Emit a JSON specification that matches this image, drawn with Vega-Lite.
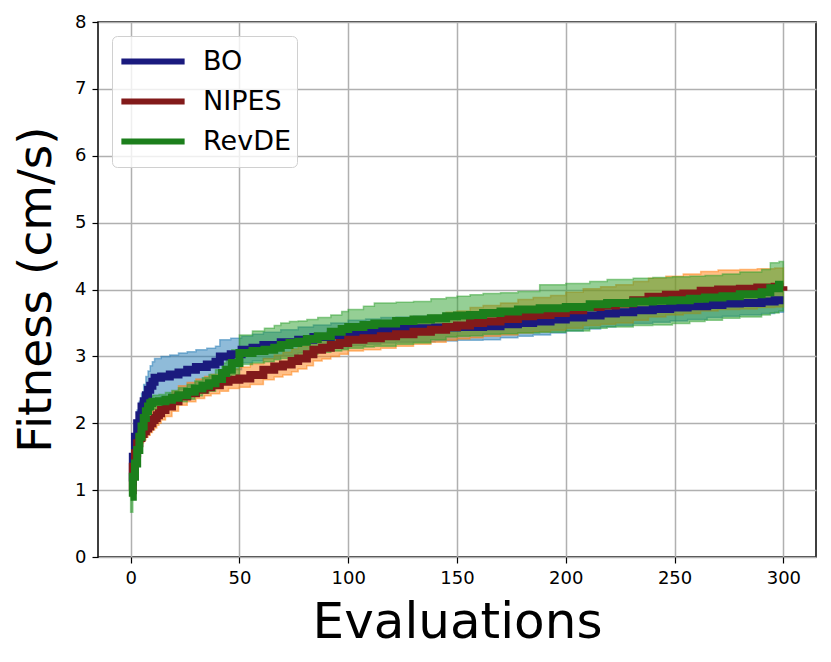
{
  "$schema": "https://vega.github.io/schema/vega-lite/v6.json",
  "width": 718,
  "height": 535,
  "autosize": {"type": "none"},
  "padding": {"left": 98, "top": 22, "right": 15, "bottom": 105},
  "background": "white",
  "data": {
    "values": [
      {"algo": "BO", "x": 0, "y": 1.13, "lo": 1.0, "hi": 1.25},
      {"algo": "BO", "x": 1, "y": 1.5, "lo": 1.33, "hi": 1.68},
      {"algo": "BO", "x": 2, "y": 1.8, "lo": 1.6, "hi": 2.0},
      {"algo": "BO", "x": 3, "y": 2.0, "lo": 1.8, "hi": 2.2},
      {"algo": "BO", "x": 4, "y": 2.12, "lo": 1.93, "hi": 2.33},
      {"algo": "BO", "x": 5, "y": 2.25, "lo": 2.05, "hi": 2.45},
      {"algo": "BO", "x": 6, "y": 2.33, "lo": 2.12, "hi": 2.58},
      {"algo": "BO", "x": 7, "y": 2.42, "lo": 2.2, "hi": 2.7},
      {"algo": "BO", "x": 8, "y": 2.5, "lo": 2.24, "hi": 2.78},
      {"algo": "BO", "x": 9, "y": 2.56, "lo": 2.28, "hi": 2.86},
      {"algo": "BO", "x": 10, "y": 2.62, "lo": 2.32, "hi": 2.92},
      {"algo": "BO", "x": 11, "y": 2.68, "lo": 2.35, "hi": 2.97},
      {"algo": "BO", "x": 14, "y": 2.7, "lo": 2.4, "hi": 3.0},
      {"algo": "BO", "x": 18, "y": 2.73, "lo": 2.45, "hi": 3.02},
      {"algo": "BO", "x": 22, "y": 2.76, "lo": 2.5, "hi": 3.05},
      {"algo": "BO", "x": 26, "y": 2.8, "lo": 2.55, "hi": 3.07},
      {"algo": "BO", "x": 30, "y": 2.84, "lo": 2.6, "hi": 3.1},
      {"algo": "BO", "x": 35, "y": 2.88, "lo": 2.62, "hi": 3.12},
      {"algo": "BO", "x": 39, "y": 2.92, "lo": 2.68, "hi": 3.15},
      {"algo": "BO", "x": 41, "y": 3.0, "lo": 2.75, "hi": 3.25},
      {"algo": "BO", "x": 46, "y": 3.03, "lo": 2.8, "hi": 3.27},
      {"algo": "BO", "x": 51, "y": 3.1, "lo": 2.9, "hi": 3.3},
      {"algo": "BO", "x": 56, "y": 3.13, "lo": 2.93, "hi": 3.33},
      {"algo": "BO", "x": 61, "y": 3.17, "lo": 2.97, "hi": 3.36},
      {"algo": "BO", "x": 69, "y": 3.21, "lo": 3.01, "hi": 3.4},
      {"algo": "BO", "x": 77, "y": 3.25, "lo": 3.05, "hi": 3.44},
      {"algo": "BO", "x": 84, "y": 3.29, "lo": 3.09, "hi": 3.47},
      {"algo": "BO", "x": 92, "y": 3.32, "lo": 3.12, "hi": 3.5},
      {"algo": "BO", "x": 100, "y": 3.36, "lo": 3.16, "hi": 3.54},
      {"algo": "BO", "x": 108, "y": 3.38, "lo": 3.18, "hi": 3.56},
      {"algo": "BO", "x": 115, "y": 3.4, "lo": 3.2, "hi": 3.58},
      {"algo": "BO", "x": 122, "y": 3.41, "lo": 3.21, "hi": 3.59},
      {"algo": "BO", "x": 130, "y": 3.42, "lo": 3.22, "hi": 3.6},
      {"algo": "BO", "x": 140, "y": 3.43, "lo": 3.23, "hi": 3.61},
      {"algo": "BO", "x": 150, "y": 3.44, "lo": 3.24, "hi": 3.62},
      {"algo": "BO", "x": 162, "y": 3.45, "lo": 3.25, "hi": 3.63},
      {"algo": "BO", "x": 170, "y": 3.48, "lo": 3.28, "hi": 3.66},
      {"algo": "BO", "x": 178, "y": 3.5, "lo": 3.3, "hi": 3.68},
      {"algo": "BO", "x": 185, "y": 3.52, "lo": 3.32, "hi": 3.7},
      {"algo": "BO", "x": 193, "y": 3.55, "lo": 3.35, "hi": 3.73},
      {"algo": "BO", "x": 200, "y": 3.58, "lo": 3.38, "hi": 3.76},
      {"algo": "BO", "x": 208, "y": 3.61, "lo": 3.41, "hi": 3.79},
      {"algo": "BO", "x": 216, "y": 3.64, "lo": 3.44, "hi": 3.82},
      {"algo": "BO", "x": 223, "y": 3.66, "lo": 3.46, "hi": 3.84},
      {"algo": "BO", "x": 231, "y": 3.69, "lo": 3.49, "hi": 3.87},
      {"algo": "BO", "x": 240, "y": 3.71, "lo": 3.51, "hi": 3.89},
      {"algo": "BO", "x": 248, "y": 3.73, "lo": 3.53, "hi": 3.91},
      {"algo": "BO", "x": 256, "y": 3.75, "lo": 3.55, "hi": 3.93},
      {"algo": "BO", "x": 265, "y": 3.77, "lo": 3.58, "hi": 3.95},
      {"algo": "BO", "x": 272, "y": 3.79, "lo": 3.6, "hi": 3.97},
      {"algo": "BO", "x": 280, "y": 3.8, "lo": 3.62, "hi": 3.98},
      {"algo": "BO", "x": 290, "y": 3.82, "lo": 3.64, "hi": 4.0},
      {"algo": "BO", "x": 296, "y": 3.84, "lo": 3.66, "hi": 4.02},
      {"algo": "BO", "x": 300, "y": 3.84, "lo": 3.66, "hi": 4.02},

      {"algo": "NIPES", "x": 0, "y": 1.0, "lo": 0.9, "hi": 1.1},
      {"algo": "NIPES", "x": 1, "y": 1.35, "lo": 1.22, "hi": 1.47},
      {"algo": "NIPES", "x": 2, "y": 1.55, "lo": 1.42, "hi": 1.68},
      {"algo": "NIPES", "x": 3, "y": 1.7, "lo": 1.57, "hi": 1.83},
      {"algo": "NIPES", "x": 4, "y": 1.78, "lo": 1.65, "hi": 1.91},
      {"algo": "NIPES", "x": 5, "y": 1.84, "lo": 1.71, "hi": 1.98},
      {"algo": "NIPES", "x": 6, "y": 1.88, "lo": 1.75, "hi": 2.02},
      {"algo": "NIPES", "x": 7, "y": 1.92, "lo": 1.79, "hi": 2.06},
      {"algo": "NIPES", "x": 8, "y": 1.95, "lo": 1.82, "hi": 2.1},
      {"algo": "NIPES", "x": 9, "y": 2.0, "lo": 1.86, "hi": 2.15},
      {"algo": "NIPES", "x": 10, "y": 2.05, "lo": 1.9, "hi": 2.2},
      {"algo": "NIPES", "x": 11, "y": 2.08, "lo": 1.93, "hi": 2.23},
      {"algo": "NIPES", "x": 12, "y": 2.12, "lo": 1.97, "hi": 2.28},
      {"algo": "NIPES", "x": 13, "y": 2.15, "lo": 2.0, "hi": 2.31},
      {"algo": "NIPES", "x": 14, "y": 2.2, "lo": 2.05, "hi": 2.35},
      {"algo": "NIPES", "x": 16, "y": 2.25, "lo": 2.1, "hi": 2.4},
      {"algo": "NIPES", "x": 19, "y": 2.33, "lo": 2.18, "hi": 2.48},
      {"algo": "NIPES", "x": 22, "y": 2.4, "lo": 2.27, "hi": 2.56},
      {"algo": "NIPES", "x": 26, "y": 2.45, "lo": 2.32, "hi": 2.61},
      {"algo": "NIPES", "x": 30, "y": 2.5, "lo": 2.37, "hi": 2.66},
      {"algo": "NIPES", "x": 34, "y": 2.54, "lo": 2.41, "hi": 2.7},
      {"algo": "NIPES", "x": 37, "y": 2.57, "lo": 2.44, "hi": 2.73},
      {"algo": "NIPES", "x": 41, "y": 2.62, "lo": 2.48, "hi": 2.78},
      {"algo": "NIPES", "x": 45, "y": 2.65, "lo": 2.52, "hi": 2.81},
      {"algo": "NIPES", "x": 50, "y": 2.67, "lo": 2.54, "hi": 2.84},
      {"algo": "NIPES", "x": 55, "y": 2.72, "lo": 2.58, "hi": 2.89},
      {"algo": "NIPES", "x": 61, "y": 2.8, "lo": 2.65, "hi": 2.97},
      {"algo": "NIPES", "x": 66, "y": 2.85, "lo": 2.69, "hi": 3.02},
      {"algo": "NIPES", "x": 70, "y": 2.88, "lo": 2.72, "hi": 3.06},
      {"algo": "NIPES", "x": 74, "y": 2.93, "lo": 2.77, "hi": 3.11},
      {"algo": "NIPES", "x": 77, "y": 2.97, "lo": 2.81, "hi": 3.15},
      {"algo": "NIPES", "x": 81, "y": 3.03, "lo": 2.86, "hi": 3.21},
      {"algo": "NIPES", "x": 84, "y": 3.1, "lo": 2.93, "hi": 3.28},
      {"algo": "NIPES", "x": 88, "y": 3.13, "lo": 2.96, "hi": 3.31},
      {"algo": "NIPES", "x": 92, "y": 3.17, "lo": 3.0, "hi": 3.35},
      {"algo": "NIPES", "x": 96, "y": 3.2, "lo": 3.03, "hi": 3.39},
      {"algo": "NIPES", "x": 100, "y": 3.25, "lo": 3.08, "hi": 3.44},
      {"algo": "NIPES", "x": 107, "y": 3.27, "lo": 3.1, "hi": 3.46},
      {"algo": "NIPES", "x": 115, "y": 3.3, "lo": 3.12, "hi": 3.5},
      {"algo": "NIPES", "x": 122, "y": 3.33, "lo": 3.15, "hi": 3.53},
      {"algo": "NIPES", "x": 130, "y": 3.37, "lo": 3.18, "hi": 3.58},
      {"algo": "NIPES", "x": 138, "y": 3.4, "lo": 3.21, "hi": 3.61},
      {"algo": "NIPES", "x": 145, "y": 3.44, "lo": 3.24, "hi": 3.66},
      {"algo": "NIPES", "x": 150, "y": 3.46, "lo": 3.26, "hi": 3.68},
      {"algo": "NIPES", "x": 156, "y": 3.5, "lo": 3.28, "hi": 3.73},
      {"algo": "NIPES", "x": 162, "y": 3.52, "lo": 3.3, "hi": 3.76},
      {"algo": "NIPES", "x": 170, "y": 3.56, "lo": 3.32, "hi": 3.8},
      {"algo": "NIPES", "x": 178, "y": 3.6, "lo": 3.35, "hi": 3.85},
      {"algo": "NIPES", "x": 185, "y": 3.62, "lo": 3.37, "hi": 3.88},
      {"algo": "NIPES", "x": 193, "y": 3.65, "lo": 3.39, "hi": 3.91},
      {"algo": "NIPES", "x": 200, "y": 3.69, "lo": 3.42, "hi": 3.96},
      {"algo": "NIPES", "x": 208, "y": 3.74, "lo": 3.46, "hi": 4.01},
      {"algo": "NIPES", "x": 216, "y": 3.76, "lo": 3.48, "hi": 4.04},
      {"algo": "NIPES", "x": 223, "y": 3.79, "lo": 3.5, "hi": 4.07},
      {"algo": "NIPES", "x": 231, "y": 3.84, "lo": 3.54, "hi": 4.12},
      {"algo": "NIPES", "x": 238, "y": 3.89, "lo": 3.59, "hi": 4.17},
      {"algo": "NIPES", "x": 246, "y": 3.92, "lo": 3.62, "hi": 4.2},
      {"algo": "NIPES", "x": 254, "y": 3.94, "lo": 3.64, "hi": 4.23},
      {"algo": "NIPES", "x": 262, "y": 3.98, "lo": 3.68, "hi": 4.27},
      {"algo": "NIPES", "x": 270, "y": 4.0, "lo": 3.7, "hi": 4.29},
      {"algo": "NIPES", "x": 280, "y": 4.01, "lo": 3.71, "hi": 4.3},
      {"algo": "NIPES", "x": 288, "y": 4.03, "lo": 3.73, "hi": 4.31},
      {"algo": "NIPES", "x": 296, "y": 4.04, "lo": 3.74, "hi": 4.32},
      {"algo": "NIPES", "x": 300, "y": 4.05, "lo": 3.75, "hi": 4.32},

      {"algo": "RevDE", "x": 0, "y": 0.9, "lo": 0.67, "hi": 1.0},
      {"algo": "RevDE", "x": 1, "y": 1.2, "lo": 1.0, "hi": 1.3},
      {"algo": "RevDE", "x": 2, "y": 1.4, "lo": 1.25, "hi": 1.5},
      {"algo": "RevDE", "x": 3, "y": 1.6, "lo": 1.45, "hi": 1.7},
      {"algo": "RevDE", "x": 4, "y": 1.8, "lo": 1.65, "hi": 1.9},
      {"algo": "RevDE", "x": 5, "y": 1.95, "lo": 1.8, "hi": 2.05},
      {"algo": "RevDE", "x": 6, "y": 2.08, "lo": 1.95, "hi": 2.18},
      {"algo": "RevDE", "x": 7, "y": 2.18, "lo": 2.06, "hi": 2.28},
      {"algo": "RevDE", "x": 8, "y": 2.25, "lo": 2.14, "hi": 2.35},
      {"algo": "RevDE", "x": 9, "y": 2.3, "lo": 2.19, "hi": 2.4},
      {"algo": "RevDE", "x": 10, "y": 2.32, "lo": 2.21, "hi": 2.42},
      {"algo": "RevDE", "x": 13, "y": 2.33, "lo": 2.23, "hi": 2.43},
      {"algo": "RevDE", "x": 16, "y": 2.35, "lo": 2.25, "hi": 2.46},
      {"algo": "RevDE", "x": 19, "y": 2.38, "lo": 2.28, "hi": 2.49},
      {"algo": "RevDE", "x": 22, "y": 2.42, "lo": 2.32, "hi": 2.53},
      {"algo": "RevDE", "x": 26, "y": 2.47, "lo": 2.36, "hi": 2.58},
      {"algo": "RevDE", "x": 29.5, "y": 2.52, "lo": 2.41, "hi": 2.63},
      {"algo": "RevDE", "x": 33, "y": 2.56, "lo": 2.45, "hi": 2.68},
      {"algo": "RevDE", "x": 36, "y": 2.6, "lo": 2.48, "hi": 2.73},
      {"algo": "RevDE", "x": 39, "y": 2.66, "lo": 2.53, "hi": 2.8},
      {"algo": "RevDE", "x": 42, "y": 2.75, "lo": 2.6, "hi": 2.9},
      {"algo": "RevDE", "x": 44, "y": 2.8, "lo": 2.65, "hi": 2.98},
      {"algo": "RevDE", "x": 46.5, "y": 2.9, "lo": 2.72, "hi": 3.1},
      {"algo": "RevDE", "x": 50, "y": 3.05, "lo": 2.88, "hi": 3.32},
      {"algo": "RevDE", "x": 56, "y": 3.08, "lo": 2.9, "hi": 3.38},
      {"algo": "RevDE", "x": 61.5, "y": 3.1, "lo": 2.92, "hi": 3.42},
      {"algo": "RevDE", "x": 66, "y": 3.13, "lo": 2.95, "hi": 3.46},
      {"algo": "RevDE", "x": 69, "y": 3.17, "lo": 2.97, "hi": 3.5},
      {"algo": "RevDE", "x": 73, "y": 3.2, "lo": 2.98, "hi": 3.52},
      {"algo": "RevDE", "x": 77, "y": 3.22, "lo": 3.0, "hi": 3.53},
      {"algo": "RevDE", "x": 81, "y": 3.26, "lo": 3.03, "hi": 3.55},
      {"algo": "RevDE", "x": 86, "y": 3.3, "lo": 3.06, "hi": 3.58},
      {"algo": "RevDE", "x": 92, "y": 3.37, "lo": 3.08, "hi": 3.62},
      {"algo": "RevDE", "x": 97, "y": 3.41, "lo": 3.1, "hi": 3.67},
      {"algo": "RevDE", "x": 100, "y": 3.44, "lo": 3.12, "hi": 3.7},
      {"algo": "RevDE", "x": 107, "y": 3.47, "lo": 3.14, "hi": 3.75},
      {"algo": "RevDE", "x": 112, "y": 3.49, "lo": 3.15, "hi": 3.8},
      {"algo": "RevDE", "x": 122, "y": 3.53, "lo": 3.18, "hi": 3.81},
      {"algo": "RevDE", "x": 130, "y": 3.55, "lo": 3.2, "hi": 3.82},
      {"algo": "RevDE", "x": 138, "y": 3.57, "lo": 3.25, "hi": 3.86},
      {"algo": "RevDE", "x": 145, "y": 3.6, "lo": 3.29, "hi": 3.88},
      {"algo": "RevDE", "x": 150, "y": 3.61, "lo": 3.3, "hi": 3.9},
      {"algo": "RevDE", "x": 156, "y": 3.62, "lo": 3.31, "hi": 3.92},
      {"algo": "RevDE", "x": 162, "y": 3.65, "lo": 3.33, "hi": 3.94},
      {"algo": "RevDE", "x": 170, "y": 3.67, "lo": 3.34, "hi": 3.95},
      {"algo": "RevDE", "x": 178, "y": 3.7, "lo": 3.35, "hi": 3.97},
      {"algo": "RevDE", "x": 188, "y": 3.72, "lo": 3.36, "hi": 4.07},
      {"algo": "RevDE", "x": 200, "y": 3.74, "lo": 3.38, "hi": 4.09},
      {"algo": "RevDE", "x": 211, "y": 3.78, "lo": 3.42, "hi": 4.12},
      {"algo": "RevDE", "x": 219, "y": 3.8, "lo": 3.44, "hi": 4.15},
      {"algo": "RevDE", "x": 231, "y": 3.82, "lo": 3.46, "hi": 4.17},
      {"algo": "RevDE", "x": 240, "y": 3.83, "lo": 3.47, "hi": 4.18},
      {"algo": "RevDE", "x": 249, "y": 3.84, "lo": 3.49, "hi": 4.19},
      {"algo": "RevDE", "x": 257, "y": 3.86, "lo": 3.52, "hi": 4.2},
      {"algo": "RevDE", "x": 264, "y": 3.88, "lo": 3.54, "hi": 4.21},
      {"algo": "RevDE", "x": 272, "y": 3.9, "lo": 3.57, "hi": 4.23},
      {"algo": "RevDE", "x": 280, "y": 3.93, "lo": 3.59, "hi": 4.26},
      {"algo": "RevDE", "x": 290, "y": 3.96, "lo": 3.62, "hi": 4.3},
      {"algo": "RevDE", "x": 294, "y": 4.02, "lo": 3.65, "hi": 4.4},
      {"algo": "RevDE", "x": 298, "y": 4.07, "lo": 3.68, "hi": 4.42},
      {"algo": "RevDE", "x": 300, "y": 4.07, "lo": 3.68, "hi": 4.42}
    ]
  },
  "encoding": {
    "x": {
      "field": "x", "type": "quantitative",
      "scale": {"domain": [-15, 315], "nice": false, "zero": false},
      "axis": {
        "values": [0, 50, 100, 150, 200, 250, 300],
        "format": "d",
        "title": "Evaluations",
        "titleFontSize": 50,
        "titleBaseline": "alphabetic",
        "titleY": 80
      }
    }
  },
  "layer": [
    {
      "mark": {"type": "area", "interpolate": "step-after", "fillOpacity": 0.5, "strokeOpacity": 0.5, "strokeWidth": 1.5},
      "encoding": {
        "y": {
          "field": "lo", "type": "quantitative",
          "scale": {"domain": [0, 8], "nice": false},
          "axis": {
            "values": [0, 1, 2, 3, 4, 5, 6, 7, 8],
            "format": "d",
            "title": "Fitness (cm/s)",
            "titleFontSize": 47,
            "titleBaseline": "alphabetic",
            "titleX": -48,
            "titleY": 267
          }
        },
        "y2": {"field": "hi"},
        "fill": {
          "field": "algo", "type": "nominal",
          "scale": {"range": ["#1f77b4", "#ff7f0e", "#2ca02c"]},
          "legend": null
        },
        "stroke": {
          "field": "algo", "type": "nominal",
          "scale": {"range": ["#1f77b4", "#ff7f0e", "#2ca02c"]},
          "legend": null
        }
      }
    },
    {
      "mark": {"type": "line", "interpolate": "step-after", "strokeWidth": 8, "strokeCap": "butt"},
      "encoding": {
        "y": {"field": "y", "type": "quantitative"},
        "color": {
          "field": "algo", "type": "nominal",
          "scale": {"domain": ["BO", "NIPES", "RevDE"], "range": ["#1a1a7e", "#821a1a", "#1c7f1c"]},
          "legend": {
            "title": null,
            "orient": "top-left",
            "offset": 14,
            "padding": 6,
            "symbolType": "stroke",
            "symbolSize": 4000,
            "symbolStrokeWidth": 6,
            "clipHeight": 39,
            "rowPadding": 1,
            "labelFontSize": 27,
            "labelOffset": 15,
            "labelColor": "black",
            "labelFont": "DejaVu Sans",
            "fillColor": "rgba(255,255,255,0.8)",
            "strokeColor": "#d0d0d0",
            "cornerRadius": 5
          }
        }
      }
    }
  ],
  "config": {
    "font": "DejaVu Sans",
    "view": {"stroke": "black", "strokeWidth": 1.5},
    "axis": {
      "domain": false,
      "grid": true,
      "gridColor": "#b0b0b0",
      "gridWidth": 1.5,
      "ticks": true,
      "tickColor": "black",
      "tickSize": 6,
      "tickWidth": 1.2,
      "labelFontSize": 18,
      "labelColor": "black",
      "labelFont": "DejaVu Sans",
      "labelPadding": 6,
      "titleFont": "DejaVu Sans",
      "titleFontWeight": "normal",
      "titleColor": "black"
    }
  }
}
